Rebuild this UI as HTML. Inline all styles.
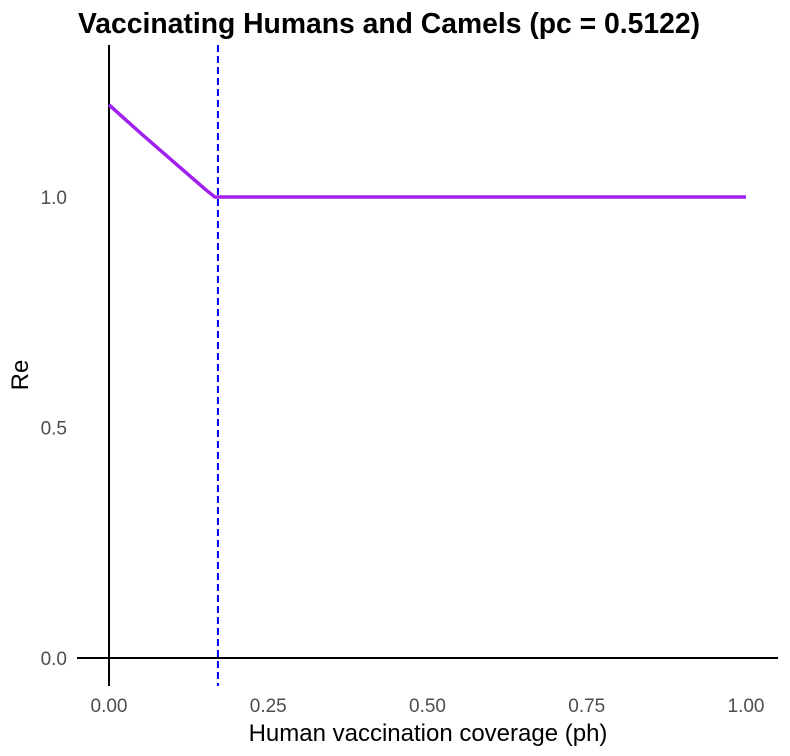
<!DOCTYPE html>
<html><head><meta charset="utf-8"><style>
html,body{margin:0;padding:0;background:#fff;}
svg{display:block;font-family:"Liberation Sans",sans-serif;}
</style></head><body>
<svg id="chart" width="790" height="756">
<text x="389" y="33" text-anchor="middle" font-size="28.3" font-weight="bold" fill="#000">Vaccinating Humans and Camels (pc = 0.5122)</text>
<g id="axes"></g>
<g id="marks"></g>
<text x="428" y="741" text-anchor="middle" font-size="24" fill="#000">Human vaccination coverage (ph)</text>
<text transform="translate(28,375) rotate(-90)" text-anchor="middle" font-size="24" fill="#000">Re</text>
</svg>
<script>
const xVals = [0, 0.05, 0.10, 0.15, 0.166, 1.0];
const reVals = [1.20, 1.138, 1.078, 1.018, 1.0, 1.0];
const xTicks = [0, 0.25, 0.5, 0.75, 1.0];
const xTickLabels = ["0.00", "0.25", "0.50", "0.75", "1.00"];
const yTicks = [0, 0.5, 1.0];
const yTickLabels = ["0.0", "0.5", "1.0"];
const threshold = [0.171];

const NS = "http://www.w3.org/2000/svg";
const sx = v => 109 + v * 637;
const sy = v => 658 - v * 461;
function mk(tag, attrs, parent) {
  const e = document.createElementNS(NS, tag);
  for (const k in attrs) e.setAttribute(k, attrs[k]);
  parent.appendChild(e);
  return e;
}
const axes = document.getElementById('axes');
const marks = document.getElementById('marks');

let yl = mk('line', {x1: sx(0), x2: sx(0), y1: 45, y2: 686, stroke: '#000', 'stroke-width': 2}, axes);


let xl = mk('line', {x1: 77, x2: 778, y1: sy(0), y2: sy(0), stroke: '#000', 'stroke-width': 2}, axes);



xTicks.forEach((t, i) => {
  const tx = mk('text', {x: sx(t), y: 712, 'text-anchor': 'middle', 'font-size': 19, fill: '#4d4d4d'}, axes);
  tx.textContent = xTickLabels[i];
  
  
});
yTicks.forEach((t, i) => {
  const tx = mk('text', {x: 67, y: sy(t) + 7, 'text-anchor': 'end', 'font-size': 19, fill: '#4d4d4d'}, axes);
  tx.textContent = yTickLabels[i];
  
  
});

const vl = mk('line', {x1: sx(threshold[0]), x2: sx(threshold[0]), y1: 45, y2: 686, stroke: '#0000ff', 'stroke-width': 2, 'stroke-dasharray': '7,4'}, marks);



const d = xVals.map((x, i) => (i ? 'L' : 'M') + sx(x) + ',' + sy(reVals[i])).join(' ');
const p = mk('path', {d: d, fill: 'none', stroke: '#a020f0', 'stroke-width': 3.5, 'stroke-linejoin': 'round'}, marks);


</script>
</body></html>
